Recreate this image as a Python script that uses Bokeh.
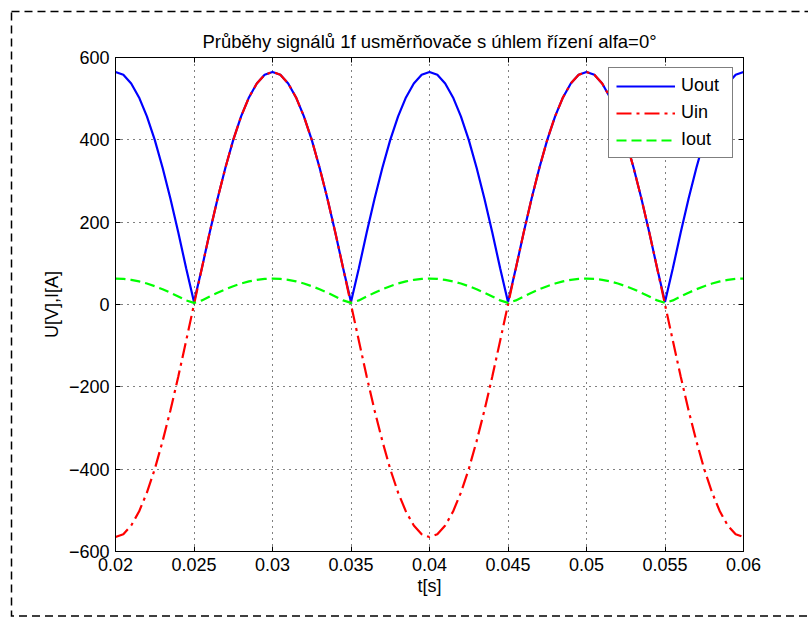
from bokeh.plotting import figure
from bokeh.models import Range1d, FixedTicker, LinearAxis, Legend, LegendItem
from bokeh.embed import file_html
from bokeh.resources import INLINE

# Sampled waveforms, 0.5 ms step from 0.02 s to 0.06 s
t = [0.0200, 0.0205, 0.0210, 0.0215, 0.0220, 0.0225, 0.0230, 0.0235, 0.0240, 0.0245,
     0.0250, 0.0255, 0.0260, 0.0265, 0.0270, 0.0275, 0.0280, 0.0285, 0.0290, 0.0295,
     0.0300, 0.0305, 0.0310, 0.0315, 0.0320, 0.0325, 0.0330, 0.0335, 0.0340, 0.0345,
     0.0350, 0.0355, 0.0360, 0.0365, 0.0370, 0.0375, 0.0380, 0.0385, 0.0390, 0.0395,
     0.0400, 0.0405, 0.0410, 0.0415, 0.0420, 0.0425, 0.0430, 0.0435, 0.0440, 0.0445,
     0.0450, 0.0455, 0.0460, 0.0465, 0.0470, 0.0475, 0.0480, 0.0485, 0.0490, 0.0495,
     0.0500, 0.0505, 0.0510, 0.0515, 0.0520, 0.0525, 0.0530, 0.0535, 0.0540, 0.0545,
     0.0550, 0.0555, 0.0560, 0.0565, 0.0570, 0.0575, 0.0580, 0.0585, 0.0590, 0.0595,
     0.0600]

u_in = [-565, -558, -537, -503, -457, -400, -332, -257, -175, -88,
        0, 88, 175, 257, 332, 400, 457, 503, 537, 558,
        565, 558, 537, 503, 457, 400, 332, 257, 175, 88,
        0, -88, -175, -257, -332, -400, -457, -503, -537, -558,
        -565, -558, -537, -503, -457, -400, -332, -257, -175, -88,
        0, 88, 175, 257, 332, 400, 457, 503, 537, 558,
        565, 558, 537, 503, 457, 400, 332, 257, 175, 88,
        0, -88, -175, -257, -332, -400, -457, -503, -537, -558,
        -565]

u_out = [565, 558, 537, 503, 457, 400, 332, 257, 175, 88,
         6, 88, 175, 257, 332, 400, 457, 503, 537, 558,
         565, 558, 537, 503, 457, 400, 332, 257, 175, 88,
         6, 88, 175, 257, 332, 400, 457, 503, 537, 558,
         565, 558, 537, 503, 457, 400, 332, 257, 175, 88,
         6, 88, 175, 257, 332, 400, 457, 503, 537, 558,
         565, 558, 537, 503, 457, 400, 332, 257, 175, 88,
         6, 88, 175, 257, 332, 400, 457, 503, 537, 558,
         565]

i_out = [63, 62.2, 59.9, 56.1, 51, 44.5, 37, 28.6, 19.5, 9.9,
         4, 9.9, 19.5, 28.6, 37, 44.5, 51, 56.1, 59.9, 62.2,
         63, 62.2, 59.9, 56.1, 51, 44.5, 37, 28.6, 19.5, 9.9,
         4, 9.9, 19.5, 28.6, 37, 44.5, 51, 56.1, 59.9, 62.2,
         63, 62.2, 59.9, 56.1, 51, 44.5, 37, 28.6, 19.5, 9.9,
         4, 9.9, 19.5, 28.6, 37, 44.5, 51, 56.1, 59.9, 62.2,
         63, 62.2, 59.9, 56.1, 51, 44.5, 37, 28.6, 19.5, 9.9,
         4, 9.9, 19.5, 28.6, 37, 44.5, 51, 56.1, 59.9, 62.2,
         63]

x_ticks = [0.02, 0.025, 0.03, 0.035, 0.04, 0.045, 0.05, 0.055, 0.06]
x_tick_labels = ["0.02", "0.025", "0.03", "0.035", "0.04", "0.045", "0.05", "0.055", "0.06"]
y_ticks = [-600, -400, -200, 0, 200, 400, 600]

FONT = "Liberation Sans"
FS = "18px"

p = figure(width=808, height=617, output_backend="svg", toolbar_location=None,
           x_range=Range1d(0.02, 0.06), y_range=Range1d(-600, 600),
           title="Průběhy signálů 1f usměrňovače s úhlem řízení alfa=0°",
           min_border_left=115, min_border_right=65, min_border_top=57, min_border_bottom=66,
           background_fill_color="white", border_fill_alpha=0)

# dashed frame around the whole figure, drawn behind the transparent border area
frame_svg = ("data:image/svg+xml;utf8,<svg xmlns='http://www.w3.org/2000/svg' width='808' height='617'>"
             "<rect x='11.5' y='11.5' width='830' height='604.5' fill='none' stroke='black' "
             "stroke-width='1.5' stroke-dasharray='8 5'/></svg>")
p.styles = {"background-color": "white",
            "background-image": f'url("{frame_svg}")',
            "background-repeat": "no-repeat"}

p.title.align = "center"
p.title.text_font = FONT
p.title.text_font_size = "18.5px"
p.title.text_font_style = "normal"
p.title.text_color = "black"
p.title.standoff = 12

p.outline_line_color = "black"

# main axes: inward ticks, custom labels
p.xaxis.ticker = FixedTicker(ticks=x_ticks)
p.xaxis.major_label_overrides = {v: s for v, s in zip(x_ticks, x_tick_labels)}
p.yaxis.ticker = FixedTicker(ticks=y_ticks)
p.xaxis.axis_label = "t[s]"
p.yaxis.axis_label = "U[V],I[A]"
for ax in (p.xaxis[0], p.yaxis[0]):
    ax.major_tick_in = 5
    ax.major_tick_out = 0
    ax.minor_tick_line_color = None
    ax.axis_line_color = "black"
    ax.major_tick_line_color = "black"
    ax.major_label_text_font = FONT
    ax.major_label_text_font_size = FS
    ax.major_label_text_color = "black"
    ax.axis_label_text_font = FONT
    ax.axis_label_text_font_size = FS
    ax.axis_label_text_font_style = "normal"
    ax.axis_label_text_color = "black"
p.xaxis.major_label_standoff = 6
p.xaxis.axis_label_standoff = 2
p.yaxis.major_label_standoff = 6
p.yaxis.axis_label_standoff = 4

# mirrored tick marks on top and right (no labels); the top one keeps a
# small gap so that the title sits higher above the frame
for side, tick_vals, gap in (("above", x_ticks, 12), ("right", y_ticks, 0)):
    ax = LinearAxis(ticker=FixedTicker(ticks=tick_vals))
    ax.major_tick_in = 5
    ax.major_tick_out = gap
    ax.major_tick_line_color = "black"
    ax.minor_tick_line_color = None
    ax.axis_line_color = "black"
    ax.major_label_text_color = None
    ax.major_label_standoff = 0
    p.add_layout(ax, side)
p.above[0].major_tick_out = 0
p.above[0].major_label_standoff = 12

# dotted grid
for g in (p.xgrid[0], p.ygrid[0]):
    g.grid_line_color = "black"
    g.grid_line_dash = "1 5"
    g.grid_line_width = 1
p.xgrid.ticker = FixedTicker(ticks=x_ticks)
p.ygrid.ticker = FixedTicker(ticks=y_ticks)

r_out = p.line(t, u_out, line_color="#0000ff", line_width=2.2)
r_in = p.line(t, u_in, line_color="#ff0000", line_width=2.2, line_dash="15 5 3 5")
r_i = p.line(t, i_out, line_color="#00ff00", line_width=2.2, line_dash="10 5")

legend = Legend(items=[LegendItem(label="Uout", renderers=[r_out]),
                       LegendItem(label="Uin", renderers=[r_in]),
                       LegendItem(label="Iout", renderers=[r_i])],
                location="top_right", margin=10, padding=7, spacing=6,
                glyph_width=59, glyph_height=20, label_height=20, label_width=44,
                label_standoff=6, label_text_font=FONT, label_text_font_size=FS,
                label_text_color="black", border_line_color="black", border_line_width=1,
                background_fill_color="white", background_fill_alpha=1)
p.add_layout(legend)

open("out.html", "w").write(file_html(p, INLINE))
